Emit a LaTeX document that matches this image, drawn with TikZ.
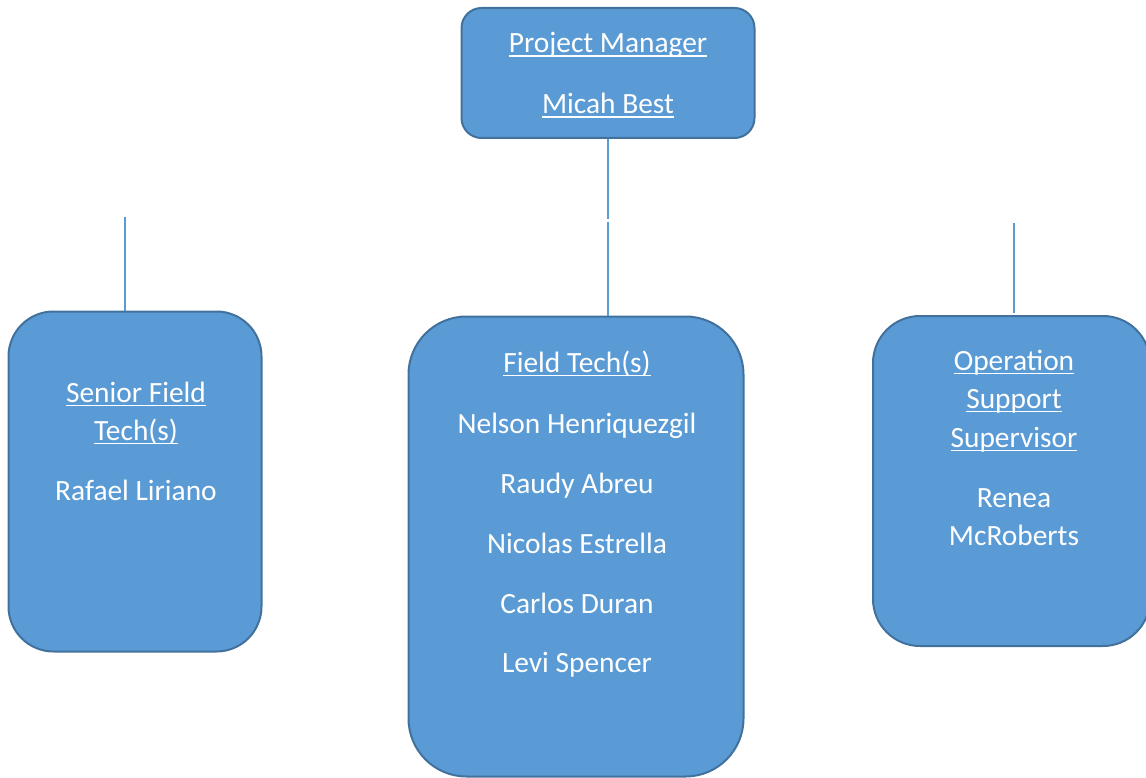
\documentclass[tikz,border=0pt]{standalone}
\usepackage{fontspec}
\setmainfont{Carlito}
\newsavebox{\myulbox}
\newcommand{\myul}[1]{\sbox{\myulbox}{#1}\rlap{\rule[-4.3pt]{\wd\myulbox}{1.8pt}}\usebox{\myulbox}}
\definecolor{boxfill}{HTML}{5B9BD5}
\definecolor{boxline}{HTML}{41719C}
\begin{document}
\begin{tikzpicture}[x=1pt,y=-1pt,
  box/.style={draw=boxline, fill=boxfill, line width=2pt, rectangle, inner sep=0pt},
  lbl/.style={text=white, font=\fontsize{29.4}{35}\selectfont, anchor=base, inner sep=0pt},
  conn/.style={draw=boxfill, line width=1.3pt}]
\useasboundingbox (0,0) rectangle (1146,778);
% boxes
\node[box, minimum width=293pt, minimum height=130pt, rounded corners=20pt] (pm) at (608,73) {};
\node[box, minimum width=253pt, minimum height=340pt, rounded corners=45pt] (senior) at (135,481.5) {};
\node[box, minimum width=335pt, minimum height=460pt, rounded corners=58pt] (field) at (576,546.5) {};
\node[box, minimum width=277pt, minimum height=330pt, rounded corners=47pt] (ops) at (1011.5,481) {};
% connectors
\coordinate (gapA) at (608,219);
\coordinate (gapB) at (608,222);
\coordinate (sftop) at (125,217);
\coordinate (optop) at (1014,223);
\coordinate (opbot) at (1014,313);
\draw[conn] (pm.south) -- (gapA);
\draw[conn] (gapB) -- (gapB |- field.north);
\draw[conn] (sftop) -- (sftop |- senior.north);
\draw[conn] (optop) -- (opbot);
% texts
\node[lbl] (pm1) at (608,53) {\myul{Project Manager}};
\node[lbl] (pm2) at (608,114) {\myul{Micah Best}};
\node[lbl] (sf1) at (136,402) {\myul{Senior Field}};
\node[lbl] (sf2) at (136,440) {\myul{Tech(s)}};
\node[lbl] (sf3) at (136,500) {Rafael Liriano};
\node[lbl] (ft1) at (577,372) {\myul{Field Tech(s)}};
\node[lbl] (ft2) at (577,433) {Nelson Henriquezgil};
\node[lbl] (ft3) at (577,493) {Raudy Abreu};
\node[lbl] (ft4) at (577,553) {Nicolas Estrella};
\node[lbl] (ft5) at (577,613) {Carlos Duran};
\node[lbl] (ft6) at (577,672) {Levi Spencer};
\node[lbl] (op1) at (1014,370) {\myul{Operation}};
\node[lbl] (op2) at (1014,408) {\myul{Support}};
\node[lbl] (op3) at (1014,447) {\myul{Supervisor}};
\node[lbl] (op4) at (1014,507) {Renea};
\node[lbl] (op5) at (1014,545) {McRoberts};
\end{tikzpicture}
\end{document}
